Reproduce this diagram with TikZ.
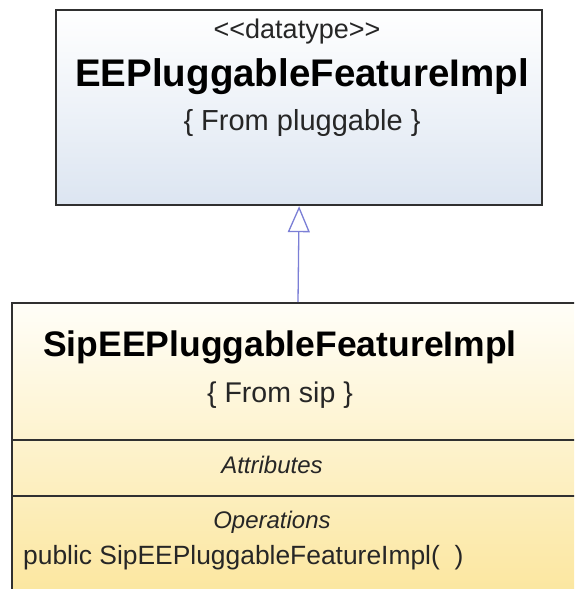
\documentclass[tikz,border=0pt]{standalone}
\usepackage{fontspec}
\setmainfont{Liberation Sans}
\usetikzlibrary{arrows.meta}
\definecolor{boxline}{HTML}{303030}
\definecolor{blueTop}{HTML}{FFFFFF}
\definecolor{blueBot}{HTML}{DCE5F1}
\definecolor{yelTop}{HTML}{FFFEF8}
\definecolor{yelBot}{HTML}{FBE496}
\definecolor{genline}{HTML}{7B7FD6}
\tikzset{
  classbox/.style={draw=boxline, line width=2.2pt, rectangle, inner sep=0pt, anchor=north west},
  txt/.style={inner sep=0pt, text=black!85},
  gen/.style={draw=genline, line width=1.3pt, -{Triangle[open, length=26pt, width=22pt, line width=1.3pt]}},
}
\begin{document}
\begin{tikzpicture}[x=1pt,y=-1pt]
\useasboundingbox (0,0) rectangle (574,589);
\clip (0,0) rectangle (574,589);
\fill[white] (0,0) rectangle (574,589);
% parent class
\node[classbox, top color=blueTop, bottom color=blueBot, minimum width=486pt, minimum height=195pt] (parent) at (55,9) {};
\node[txt, font=\fontsize{27}{32}\selectfont] (pster) at (297,32) {<{}<datatype>{}>};
\node[txt, font=\fontsize{38.5}{46}\selectfont\bfseries, text=black] (pname) at (302,77) {EEPluggableFeatureImpl};
\node[txt, font=\fontsize{29}{35}\selectfont] (pfrom) at (302,123) {\{ From pluggable \}};
% child class
\node[classbox, top color=yelTop, bottom color=yelBot, minimum width=600pt, minimum height=320pt] (child) at (11,302) {};
\coordinate (d1l) at (11,440);
\coordinate (d1r) at (600,440);
\coordinate (d2l) at (11,496);
\coordinate (d2r) at (600,496);
\draw[boxline, line width=2pt] (d1l) -- (d1r);
\draw[boxline, line width=2pt] (d2l) -- (d2r);
\node[txt, font=\fontsize{35.5}{42}\selectfont\bfseries, text=black] (cname) at (280,347) {SipEEPluggableFeatureImpl};
\node[txt, font=\fontsize{28.5}{34}\selectfont] (cfrom) at (280,395) {\{ From sip \}};
\node[txt, font=\fontsize{24}{29}\selectfont\itshape] (attr) at (272,465) {Attributes};
\node[txt, font=\fontsize{24}{29}\selectfont\itshape] (ops) at (272,522) {Operations};
\node[txt, font=\fontsize{26.4}{31}\selectfont, anchor=west] (op1) at (23,558) {public SipEEPluggableFeatureImpl(\ \ )};
% generalization
\coordinate (gbot) at (298,302);
\draw[gen] (gbot) -- (parent.south);
\end{tikzpicture}
\end{document}
